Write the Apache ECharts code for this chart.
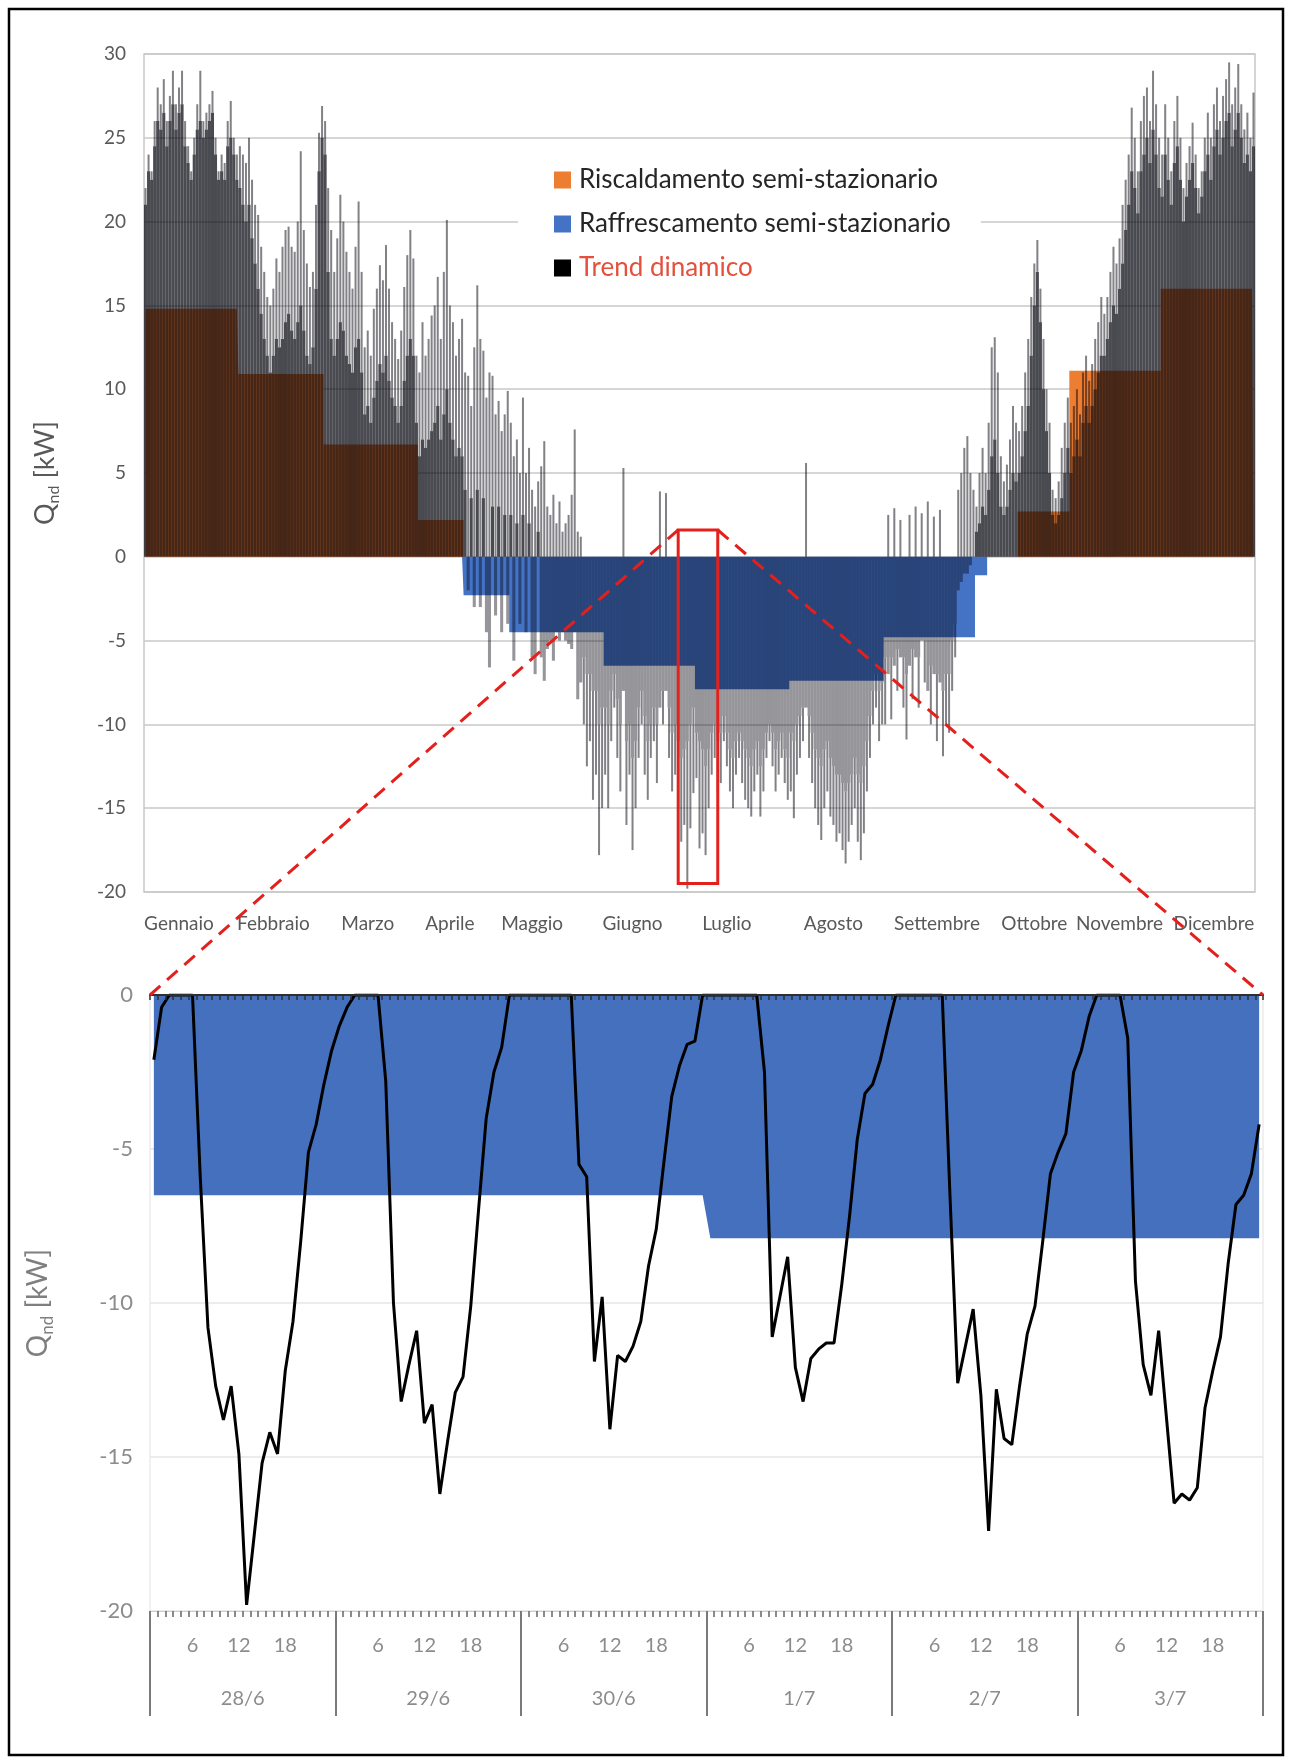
<!DOCTYPE html>
<html>
<head>
<meta charset="utf-8">
<script src="https://cdn.jsdelivr.net/npm/echarts@6/dist/echarts.min.js"></script>
<style>
html,body{margin:0;padding:0;background:#ffffff;}
#c{width:1292px;height:1764px;}
</style>
</head>
<body>
<div id="c"></div>
<script>
// ---------------- DATA ----------------
const monthNames = ['Gennaio','Febbraio','Marzo','Aprile','Maggio','Giugno','Luglio','Agosto','Settembre','Ottobre','Novembre','Dicembre'];
const monthLengths = [31,28,31,30,31,30,31,31,30,31,30,31];
// day of the month under which each month label sits in the original
const monthLabelDay = [12,12,15,11,8,10,11,15,18,20,17,18];

// semi-stationary monthly loads [kW]
const heatingStep = [14.8, 10.9, 6.7, 2.2, 0, 0, 0, 0, 0, 2.7, 11.1, 16.0];
const coolingStep = [0, 0, 0, -2.3, -4.5, -6.5, -7.9, -7.4, -4.8, -1.1, 0, 0];
const heatingSeason = [['1/1','15/4'], ['15/10','31/12']];
const coolingSeason = [['16/4','4/10']];

// dynamic trend: daily extreme value and daily typical value [kW]
const peakByMonth = [
  [22,24,23,26,28,27,28.5,26,27.5,29,27,28,29,26,24.5,23,25,27,29,26,26.5,27,27.8,25,23,24,23.5,26,27.2,25,24],
  [24.5,24,23.5,25,22.5,21,20.4,18.5,17,15.5,15,16,17.8,17,18.5,19.5,19.7,18.5,18.2,20,24.2,19.5,17.5,16.1,17,21,25.3,26.9],
  [26,22,19.5,17,19,21.6,20,18.2,17,16,18.5,21.2,17,12.5,13.5,12,14.8,16,17.4,16.5,18.6,16,14,13,11.8,13.5,16.1,18,19.5,17.8,12],
  [11,14,12,13,14.4,15,16.7,13,17,20.1,15,14,12,13,14.2,11,10.8,9,12.5,16.2,13,12.3,9.5,11,10.8,8.5,9.3,7.5,8.5,9.9],
  [8,6,7,5,9.5,5,6.5,4,3,4.5,5.4,6.9,3,2.5,3.7,2,3.3,1.5,2,2.5,3.7,7.6,1.5,1.2,-10,-12.5,-11,-14.5,-13,-17.8,-15],
  [-13,-15,-11,-9,-12,-14,5.3,-16,-13,-17.5,-15,-12,-10,-13,-14.5,-12,-11,-13.5,3.9,-10,3.8,-12,-14,-13,-15,-17,-16,-19.8,-16.2,-14.1],
  [-13.2,-17.4,-16.5,-17.8,-15,-13,-12,-14,-13.5,-11,-12.5,-14,-15,-13,-12,-13.5,-14.5,-15,-15.5,-14,-13,-15.5,-14,-12,-11,-12.5,-14,-13,-12,-13.5,-14.5],
  [-14,-15.6,-13,-12,-11,5.6,-12,-13.5,-15,-16,-16.9,-15,-14,-15.5,-16,-17,-16.5,-17.5,-18.3,-17,-16,-15,-17,-18.1,-16.5,-14,-12,-10,-9,-11,-10],
  [-10,2.5,-9.7,2.9,-8,2.2,-9,-10.9,2.5,-8.5,3.0,-9,2.6,-7.5,3.3,-10,2.4,-11,2.8,-11.9,-10,-10.5,-8,-6,4,5,6.5,7.2,5,4],
  [3,5,6.5,5,8,12.5,13.1,11,6,4.5,5.5,7,9,8,7.5,9,11,13,15.5,17.5,18.9,16,13,10,8,4,3.5,4.5,6.5,8,9.5],
  [8,9,10,8.5,11,12,10.5,11.5,13,14,15.5,14.5,15.5,17,18.5,17.5,19,21,22.5,24,26.8,25,23,26,27.5,28,26,29,27,25],
  [24,27,25,23,26,27.5,25,22,23.5,24.5,25.9,24,22,23,25,26.5,25,27,28,26,27.5,28.5,29.5,27,28,29.4,27,25.5,26.5,25,27.7]
];
const baseByMonth = [
  [21,23,22.5,24.5,26,25.5,26.5,24.5,26,27,25.5,26.5,27,24.5,23.5,22.5,24,25.5,26,25,25.5,26,26.5,24,22.5,23,22.5,24.5,25,24,22.5],
  [22,21,20,21,19,17.5,16,14.5,13,12,11,12,13,12.5,13,14,14.5,13.5,13,14,15,13.5,12,11.5,12.5,16,23,25],
  [24,17,13,12,13,14,13.5,12,11.5,11,12.5,13,11,8.5,9,8,9.5,10.5,11.5,11,12,10.5,9.5,9,8,9,10.5,12,13,12,8],
  [6,7,6.5,7,7.5,8,9,7,8.5,10,8,7,6,6.5,6,4,-2,3.5,-3,4,-3,3.5,-4.5,-6.6,3,-3.5,3,-4.5,2.5,-4],
  [2.5,-6.2,2,-4,2.5,-4.5,2,-6,-7,1.5,-6,-7.4,-5.5,-5,-6.2,-4.5,-5,-4.5,-5,-5.2,-5.5,-4.5,-8.5,-7.5,-6,-7,-7,-8,-8,-10,-9],
  [-9,-10,-8,-7,-8.5,-10,-8,-11,-10,-12,-11,-9,-8,-9.5,-11,-10,-9,-10,-9,-8,-8,-9,-10.5,-10,-11,-12,-11.5,-11,-10,-9],
  [-10.5,-11,-11.5,-12.5,-11.5,-10.5,-10,-11,-10.5,-9.5,-10.5,-11.5,-12,-11,-10.5,-11,-11.5,-12,-12.5,-11.5,-11,-12.5,-11.5,-10.5,-10,-10.5,-11.5,-11,-10.5,-11.5,-12],
  [-10.5,-11,-10,-9.5,-9,-9,-9.5,-10.5,-11.5,-12,-12.5,-11.5,-11,-12,-12.5,-13,-13,-13.5,-14,-13.5,-13,-12,-13,-13.5,-12.5,-11,-9.5,-8,-7,-8,-7.5],
  [-6,-7,-6,-6.5,-5.5,-6,-6,-7,-6.5,-5.5,-6,-6,-5,-5,-8,-6.5,-7,-7,-7.5,-8,-7,-7,-5,-4,-2,-1.5,-1,-1,-0.5,0],
  [1.5,2,3,2.5,4,6,7,5,3,2.5,3,4,5,4.5,5,6,7.5,9,12,15,17,14,10,7.5,5,2.5,2,2.5,3.5,5,6.5],
  [5,6,7,6,8,9,8,9,10,11,12,12,13,14,15,14.5,16,17.5,19.5,21,23,22,20.5,23,24,25,23.5,25.5,24,22],
  [21.5,24,22.5,21,23.5,24.5,22.5,20,21.5,22.5,23.5,22,20.5,21.5,23,24,22.5,24.5,25.5,24,25,26,26.5,24.5,25.5,26.5,25,23.5,24,23,24.5]
];

// zoomed week (28/6 - 3/7), hourly dynamic load [kW]
const zoomDays = ['28/6','29/6','30/6','1/7','2/7','3/7'];
const zoomHourLabels = ['6','12','18'];
const zoomTrend = [
  -2.1,-0.4,0,0,0,0,-5.9,-10.8,-12.7,-13.8,-12.7,-14.9,-19.8,-17.5,-15.2,-14.2,-14.9,-12.2,-10.6,-8.0,-5.1,-4.2,-2.9,-1.8,
  -1.0,-0.4,0,0,0,0,-2.8,-10.0,-13.2,-12.0,-10.9,-13.9,-13.3,-16.2,-14.5,-12.9,-12.4,-10.1,-7.0,-4.0,-2.5,-1.7,0,0,
  0,0,0,0,0,0,0,-5.5,-5.9,-11.9,-9.8,-14.1,-11.7,-11.9,-11.4,-10.6,-8.8,-7.6,-5.4,-3.3,-2.3,-1.6,-1.5,0,
  0,0,0,0,0,0,0,-2.5,-11.1,-9.8,-8.5,-12.1,-13.2,-11.8,-11.5,-11.3,-11.3,-9.4,-7.2,-4.7,-3.2,-2.9,-2.1,-1.0,
  0,0,0,0,0,0,0,-6.5,-12.6,-11.4,-10.2,-13.0,-17.4,-12.8,-14.4,-14.6,-12.7,-11.0,-10.1,-8.0,-5.8,-5.1,-4.5,-2.5,
  -1.8,-0.7,0,0,0,0,-1.4,-9.3,-12.0,-13.0,-10.9,-13.7,-16.5,-16.2,-16.4,-16.0,-13.4,-12.2,-11.1,-8.7,-6.8,-6.5,-5.8,-4.2
];
// highlighted window on the annual chart
const highlightFrom = ['25/6', 1.6];
const highlightTo = ['8/7', -19.5];

// ---------------- BUILD ----------------
monthLengths.forEach((len, m) => {
  if (peakByMonth[m].length !== len || baseByMonth[m].length !== len) throw new Error('month ' + m + ' length mismatch ' + peakByMonth[m].length + '/' + baseByMonth[m].length);
});
if (zoomTrend.length !== zoomDays.length * 24) throw new Error('zoomTrend length ' + zoomTrend.length);

const dayLabels = [], dayMonth = [];
monthLengths.forEach((len, m) => { for (let d = 1; d <= len; d++) { dayLabels.push(d + '/' + (m + 1)); dayMonth.push(m); } });
const dayIndex = s => dayLabels.indexOf(s);
const inSeasons = (i, seasons) => seasons.some(([a, b]) => i >= dayIndex(a) && i <= dayIndex(b));
const heatingDaily = dayLabels.map((_, i) => inSeasons(i, heatingSeason) ? heatingStep[dayMonth[i]] : 0);
const coolingDaily = dayLabels.map((_, i) => inSeasons(i, coolingSeason) ? coolingStep[dayMonth[i]] : 0);
const trendPeak = peakByMonth.flat();
const trendBase = baseByMonth.flat();
// thin spikes from the typical value up to the extreme value (stacked on an invisible spacer)
const sameSign = (a, b) => (a >= 0) === (b >= 0);
const spikeSpacer = trendPeak.map((p, i) => sameSign(p, trendBase[i]) ? trendBase[i] : 0);
const spikeLength = trendPeak.map((p, i) => sameSign(p, trendBase[i]) ? +(p - trendBase[i]).toFixed(2) : p);
const labelDays = new Set(monthLabelDay.map((d, m) => d + '/' + (m + 1)));

const hourCats = [];
const zoomCooling = [];
zoomDays.forEach(d => {
  const idx = dayIndex(d);
  for (let h = 1; h <= 24; h++) {
    hourCats.push(d + ' ' + h);
    zoomCooling.push(inSeasons(idx, coolingSeason) ? coolingStep[dayMonth[idx]] : 0);
  }
});

const FONT = 'Lato';
const ORANGE = '#ED7D31', BLUE = '#4472C4', RED = '#e3201c';
const DARK_POS = 'rgba(4,4,14,0.72)', DARK_NEG = 'rgba(4,4,14,0.42)', SPIKE = 'rgba(4,4,14,0.5)';

const chart = echarts.init(document.getElementById('c'), null, {renderer: 'canvas', width: 1292, height: 1764});

const option = {
  animation: false,
  backgroundColor: '#ffffff',
  textStyle: {fontFamily: FONT},
  legend: {
    left: 518, top: 154, orient: 'vertical',
    backgroundColor: '#ffffff',
    padding: [13, 30, 13, 36],
    itemWidth: 17, itemHeight: 17, itemGap: 18,
    icon: 'rect',
    selectedMode: false,
    textStyle: {fontFamily: FONT, fontSize: 26, color: '#262626', lineHeight: 26, padding: [0, 0, 0, 3]},
    itemStyle: {borderWidth: 0},
    data: [
      {name: 'Riscaldamento semi-stazionario', itemStyle: {color: ORANGE}},
      {name: 'Raffrescamento semi-stazionario', itemStyle: {color: BLUE}},
      {name: 'Trend dinamico', itemStyle: {color: '#000000'}, textStyle: {color: '#e4503c'}}
    ]
  },
  grid: [
    {left: 144, right: 37, top: 54, bottom: 872, show: true, borderColor: '#c8c8c8', borderWidth: 1.5},
    {left: 150, right: 29, top: 995, bottom: 153, show: true, borderColor: '#e2e2e2', borderWidth: 1}
  ],
  xAxis: [
    {
      gridIndex: 0, type: 'category', data: dayLabels, boundaryGap: true,
      axisLine: {show: false, onZero: false}, axisTick: {show: false}, splitLine: {show: false},
      axisLabel: {
        interval: (i, v) => labelDays.has(v),
        formatter: v => monthNames[+v.split('/')[1] - 1],
        color: '#595959', fontSize: 19, fontFamily: FONT, margin: 22
      }
    },
    {
      gridIndex: 1, type: 'category', data: hourCats, boundaryGap: true, position: 'bottom',
      axisLine: {show: true, onZero: false, lineStyle: {color: '#d0d0d0', width: 1}},
      axisTick: {show: true, interval: 0, length: 6, lineStyle: {color: '#666666', width: 1.5}},
      splitLine: {show: false},
      axisLabel: {
        interval: (i, v) => zoomHourLabels.includes(v.split(' ')[1]),
        formatter: v => v.split(' ')[1],
        color: '#8c8c8c', fontSize: 20, fontFamily: FONT, margin: 25
      }
    },
    {
      gridIndex: 1, type: 'category', data: zoomDays, boundaryGap: true, position: 'bottom',
      axisLine: {show: false, onZero: false},
      axisTick: {show: true, length: 105, lineStyle: {color: '#7a7a7a', width: 2}},
      splitLine: {show: false},
      axisLabel: {color: '#8c8c8c', fontSize: 20, fontFamily: FONT, margin: 78}
    },
    {
      gridIndex: 1, type: 'category', data: hourCats, boundaryGap: true, position: 'top', z: 6,
      axisLine: {show: true, onZero: false, lineStyle: {color: '#2f2f2f', width: 2}},
      axisTick: {show: true, inside: true, interval: 0, length: 5, lineStyle: {color: '#2f2f2f', width: 1.5}},
      axisLabel: {show: false}, splitLine: {show: false}
    },
    {
      gridIndex: 0, type: 'category', data: dayLabels, boundaryGap: true, show: false
    }
  ],
  yAxis: [
    {
      gridIndex: 0, type: 'value', min: -20, max: 30, interval: 5,
      axisLine: {show: false}, axisTick: {show: false},
      splitLine: {lineStyle: {color: '#c8c8c8', width: 1.5}},
      axisLabel: {color: '#595959', fontSize: 19, fontFamily: FONT, margin: 18},
      name: '{q|Q}{s|nd}{u| [kW]}', nameLocation: 'middle', nameGap: 82,
      nameTextStyle: {rich: {
        q: {fontSize: 27, fontFamily: FONT, color: '#595959', lineHeight: 34},
        s: {fontSize: 16, fontFamily: FONT, color: '#595959', lineHeight: 16, verticalAlign: 'bottom'},
        u: {fontSize: 27, fontFamily: FONT, color: '#595959', lineHeight: 34}
      }}
    },
    {
      gridIndex: 1, type: 'value', min: -20, max: 0, interval: 5,
      axisLine: {show: false}, axisTick: {show: false},
      splitLine: {lineStyle: {color: '#e6e6e6', width: 1.5}},
      axisLabel: {color: '#8c8c8c', fontSize: 22, fontFamily: FONT, margin: 17},
      name: '{q|Q}{s|nd}{u| [kW]}', nameLocation: 'middle', nameGap: 94,
      nameTextStyle: {rich: {
        q: {fontSize: 28, fontFamily: FONT, color: '#7f7f7f', lineHeight: 36},
        s: {fontSize: 17, fontFamily: FONT, color: '#7f7f7f', lineHeight: 17, verticalAlign: 'bottom'},
        u: {fontSize: 28, fontFamily: FONT, color: '#7f7f7f', lineHeight: 36}
      }}
    }
  ],
  series: [
    {
      name: 'Riscaldamento semi-stazionario', type: 'line', xAxisIndex: 0, yAxisIndex: 0,
      data: heatingDaily, step: 'middle', symbol: 'none', z: 1,
      itemStyle: {color: ORANGE}, lineStyle: {width: 0, color: ORANGE},
      areaStyle: {color: ORANGE, opacity: 1}
    },
    {
      name: 'Raffrescamento semi-stazionario', type: 'line', xAxisIndex: 0, yAxisIndex: 0,
      data: coolingDaily, step: 'middle', symbol: 'none', z: 1,
      itemStyle: {color: BLUE}, lineStyle: {width: 0, color: BLUE},
      areaStyle: {color: BLUE, opacity: 1}
    },
    {
      name: 'Trend dinamico', type: 'bar', xAxisIndex: 0, yAxisIndex: 0,
      data: trendBase, barCategoryGap: '0%', z: 2,
      itemStyle: {color: p => (p.value >= 0 ? DARK_POS : DARK_NEG)}
    },
    {
      name: 'trend-spacer', type: 'bar', xAxisIndex: 4, yAxisIndex: 0, stack: 'spike',
      data: spikeSpacer, barWidth: 2, z: 3, silent: true,
      itemStyle: {color: 'rgba(0,0,0,0)'}
    },
    {
      name: 'Trend dinamico', type: 'bar', xAxisIndex: 4, yAxisIndex: 0, stack: 'spike',
      data: spikeLength, barWidth: 2, z: 3,
      itemStyle: {color: SPIKE}
    },
    {
      name: 'Raffrescamento zoom', type: 'line', xAxisIndex: 1, yAxisIndex: 1,
      data: zoomCooling, symbol: 'none', z: 1,
      lineStyle: {width: 0, color: BLUE}, itemStyle: {color: BLUE},
      areaStyle: {color: '#4470bd', opacity: 1}
    },
    {
      name: 'Trend zoom', type: 'line', xAxisIndex: 1, yAxisIndex: 1,
      data: zoomTrend, symbol: 'none', z: 4,
      lineStyle: {width: 3, color: '#000000'}, itemStyle: {color: '#000000'}
    }
  ]
};
chart.setOption(option);

// highlight box, connecting dashed lines and frame
const pTL = chart.convertToPixel({xAxisIndex: 0, yAxisIndex: 0}, [highlightFrom[0], highlightFrom[1]]);
const pBR = chart.convertToPixel({xAxisIndex: 0, yAxisIndex: 0}, [highlightTo[0], highlightTo[1]]);
const gRect = chart.getModel().getComponent('grid', 1).coordinateSystem.getRect();
chart.setOption({
  graphic: [
    {type: 'rect', z: 100, silent: true,
     shape: {x: pTL[0], y: pTL[1], width: pBR[0] - pTL[0], height: pBR[1] - pTL[1]},
     style: {fill: 'none', stroke: RED, lineWidth: 3}},
    {type: 'line', z: 100, silent: true,
     shape: {x1: pTL[0], y1: pTL[1], x2: gRect.x, y2: gRect.y},
     style: {stroke: RED, lineWidth: 3, lineDash: [14, 9]}},
    {type: 'line', z: 100, silent: true,
     shape: {x1: pBR[0], y1: pTL[1], x2: gRect.x + gRect.width, y2: gRect.y},
     style: {stroke: RED, lineWidth: 3, lineDash: [14, 9]}},
    {type: 'rect', z: 100, silent: true,
     shape: {x: 9, y: 9, width: 1274, height: 1746},
     style: {fill: 'none', stroke: '#000000', lineWidth: 2.5}}
  ]
});
</script>
</body>
</html>
